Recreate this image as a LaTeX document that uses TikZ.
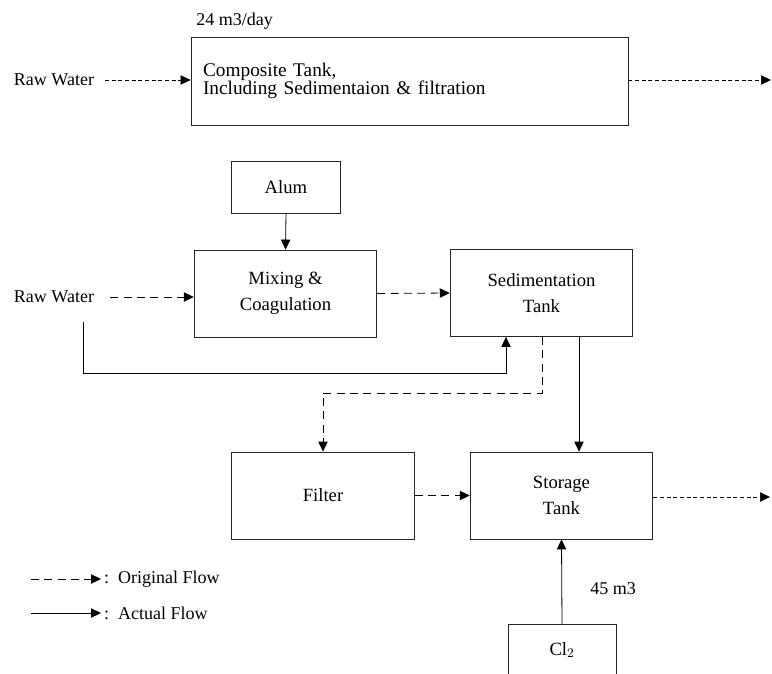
\documentclass[tikz,border=0pt]{standalone}
\usepackage{fontspec}
\setmainfont{Liberation Serif}
\usepackage{tikz}
\usetikzlibrary{positioning}
\usetikzlibrary{arrows.meta}
\tikzset{>={Triangle[width=7pt,length=7.5pt]}}

\begin{document}
\begin{tikzpicture}[x=0.75pt, y=-0.75pt, line width=0.6pt, font=\fontsize{14}{19.5}\selectfont, tank/.style={draw=black!85, minimum width=137pt, minimum height=65.25pt, inner sep=2pt, align=center}, dose/.style={draw=black!85, minimum width=82pt, minimum height=38.5pt, inner sep=2pt, align=center}, label/.style={draw=none, fill=none, inner sep=2pt, font=\fontsize{13.5}{16}\selectfont}, orig/.style={->, dash pattern=on 6pt off 4pt}, thinflow/.style={->, densely dashed, line width=0.5pt}]

    \useasboundingbox (0,0) rectangle (772,674);
    \clip (0,0) rectangle (772,674);

    %Nodes
    \node[draw=black!85, minimum width=327.75pt, minimum height=66pt, inner xsep=9pt, text width=309.75pt, align=left, font=\fontsize{14.5}{14}\selectfont](composite) at (409.5,81){Composite Tank,\\Including Sedimentaion \& filtration};
    \node[label](rate)[above=3pt of composite.north west, anchor=south west, xshift=2pt]{24 m3/day};
    \node[label](rawtop) at (54,80){Raw Water};
    \coordinate (outtop) at (771,80);

    \node[tank](mixing) at (285.5,293.5){Mixing \&\\Coagulation};
    \node[dose](alum) at (286,187.5){Alum};
    \node[tank](sedimentation) at (541.5,293){Sedimentation\\Tank};
    \node[label](rawmid) at (54,297){Raw Water};
    \coordinate (bypass) at (506,373);
    \coordinate (split) at (542,393);
    \coordinate (drop) at (579,420);

    \node[tank](filter) at (323,495.5){Filter};
    \node[tank](storage) at (561.5,495.5){Storage\\Tank};
    \coordinate (outmid) at (770,497);
    \node[dose, minimum width=81pt](chlorine) at (562,650){Cl$_2$};
    \node[label](volume) at (613,589){45 m3};

    \coordinate (legorig) at (31,579);
    \node[label, anchor=west](origtext) at (101,579){:\ \ Original Flow};
    \coordinate (legact) at (31,613);
    \node[label, anchor=west](acttext) at (101,613){:\ \ Actual Flow};

    %Lines
    \draw[thinflow, shorten <=6pt] (rawtop.east) -- (composite.west |- rawtop);
    \draw[thinflow] (composite.east |- outtop) -- (outtop);
    \draw[->] (alum.south) -- (mixing.north);
    \draw[orig, shorten <=10pt] (rawmid.east) -- (mixing.west |- rawmid.east);
    \draw[orig] (mixing.east) -- (sedimentation.west);
    \draw[->, line width=0.5pt] ([xshift=22pt, yshift=-12pt]rawmid.south) |- (bypass) -- (sedimentation.south -| bypass);
    \draw[orig] (sedimentation.south -| split) -- (split) -| (filter.north);
    \draw[->] (sedimentation.south -| drop) -- (storage.north -| drop);
    \draw[orig] (filter.east) -- (storage.west);
    \draw[thinflow] (storage.east |- outmid) -- (outmid);
    \draw[->] (chlorine.north) -- (storage.south);

    \draw[orig] (legorig) -- (origtext.west);
    \draw[->] (legact) -- (acttext.west);

\end{tikzpicture}
\end{document}
